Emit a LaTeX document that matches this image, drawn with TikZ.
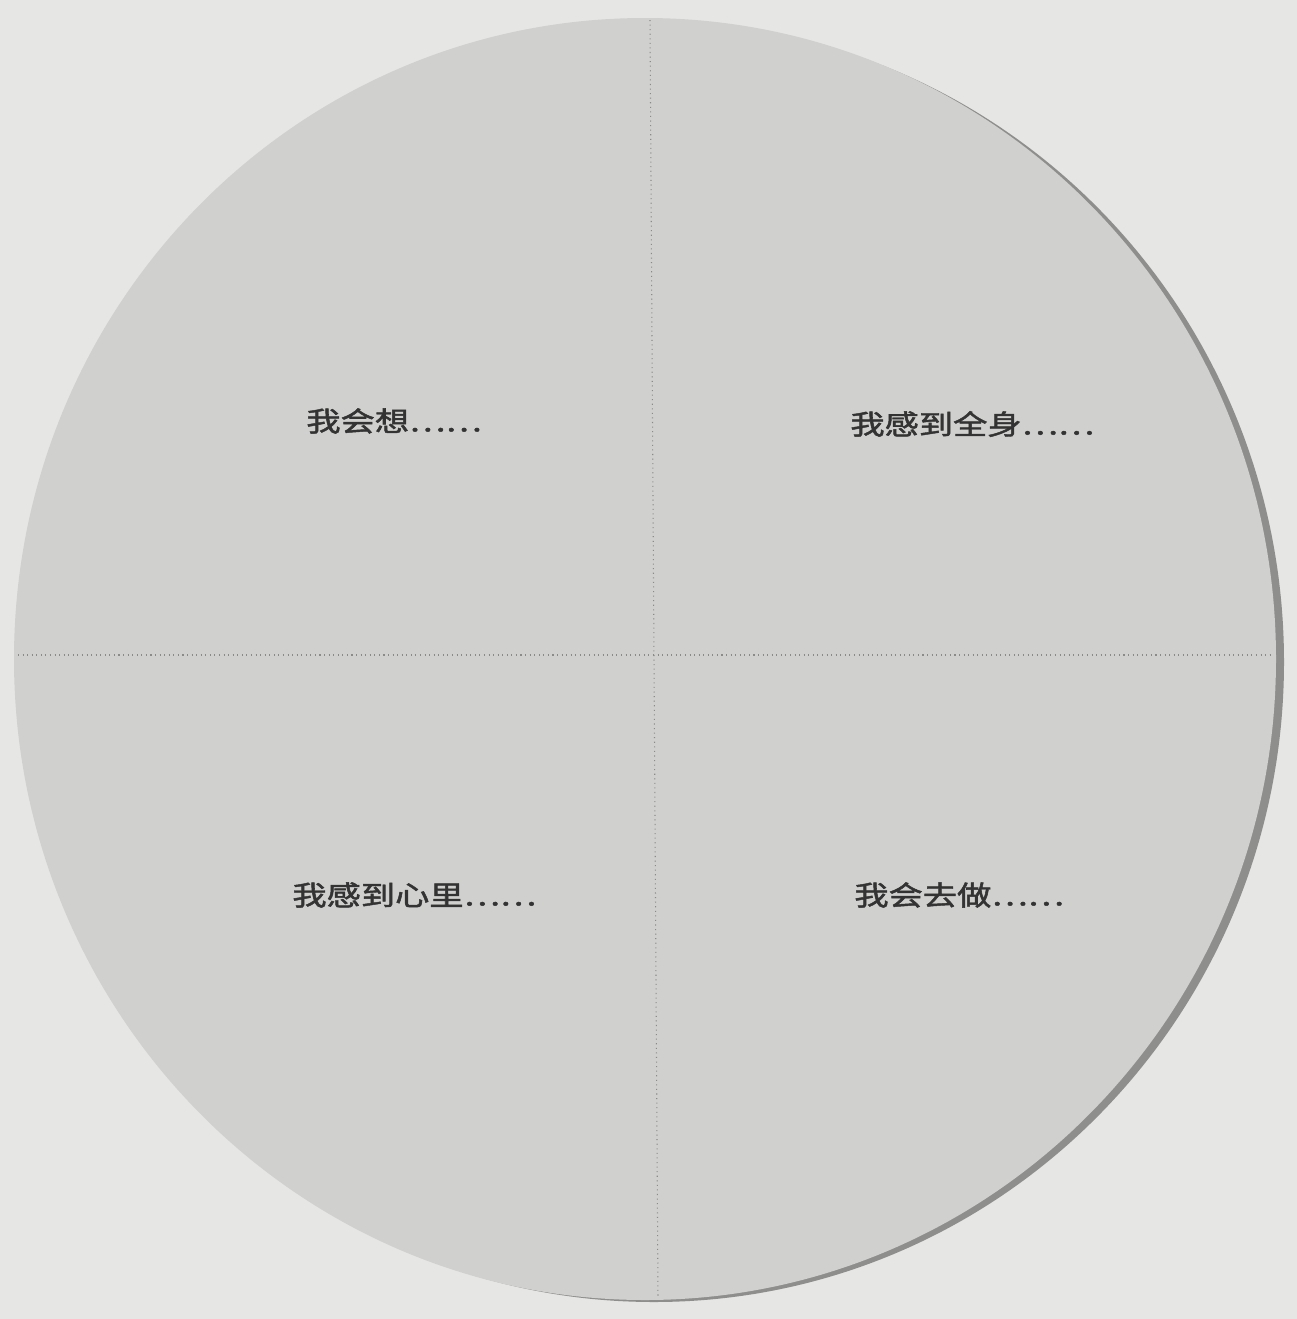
\documentclass[tikz,border=0pt]{standalone}
\usepackage{fontspec}
\newfontfamily\cjk[FakeBold=1.6]{Noto Sans CJK SC}
\definecolor{paper}{HTML}{E6E6E4}
\definecolor{disc}{HTML}{D0D0CE}
\definecolor{rim}{HTML}{8E8E8C}
\definecolor{ink}{HTML}{333333}
\definecolor{guide}{HTML}{8A8A88}
\tikzset{
  lbl/.style={font=\cjk\fontsize{19.5}{22}\selectfont, text=ink, inner sep=0pt, anchor=west},
  guideline/.style={draw=guide, line width=0.6pt, dotted}
}
\newcommand{\squat}[1]{\scalebox{1}[0.8]{#1}}
\begin{document}
\begin{tikzpicture}[x=0.02cm,y=-0.02cm]
\fill[paper] (0,0) rectangle (1297,1319);
\useasboundingbox (0,0) rectangle (1297,1319);
% rim shadow
\fill[rim] (654,662) ellipse [x radius=630, y radius=640];
% disc
\fill[disc] (645,659) ellipse [x radius=631, y radius=641];
% guides
\coordinate (vt) at (650,20);
\coordinate (vb) at (658,1298);
\coordinate (hl) at (18,655);
\coordinate (hr) at (1274,655);
\draw[guideline] (vt) -- (vb);
\draw[guideline] (hl) -- (hr);
% labels
\node[lbl] (q1) at (306,421) {\squat{我会想……}};
\node[lbl] (q2) at (850,424) {\squat{我感到全身……}};
\node[lbl] (q3) at (292,895) {\squat{我感到心里……}};
\node[lbl] (q4) at (854,895) {\squat{我会去做……}};
\end{tikzpicture}
\end{document}
